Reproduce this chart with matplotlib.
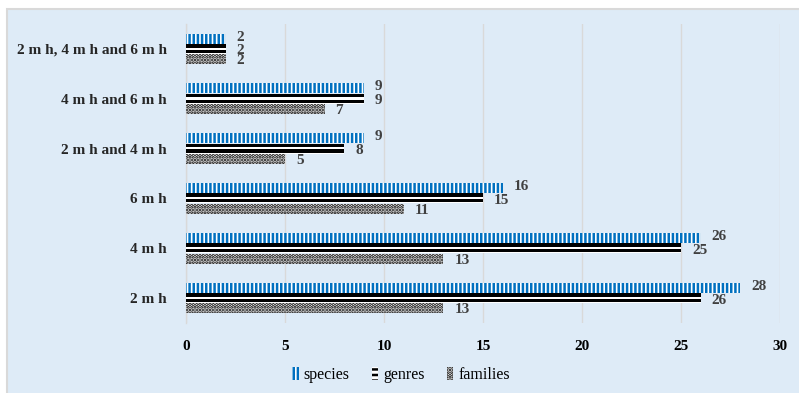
import matplotlib
matplotlib.use("Agg")
import matplotlib.pyplot as plt
from matplotlib.patches import Rectangle, Patch
import numpy as np

categories = ["2 m h", "4 m h", "6 m h", "2 m h and 4 m h", "4 m h and 6 m h",
              "2 m h, 4 m h and 6 m h"]
species = [28, 26, 16, 9, 9, 2]
genres = [26, 25, 15, 8, 9, 2]
families = [13, 13, 11, 5, 7, 2]
x_ticks = [0, 5, 10, 15, 20, 25, 30]

plt.rcParams["font.family"] = ["Liberation Serif", "DejaVu Serif"]
plt.rcParams["hatch.linewidth"] = 1.8

bg = "#DEEBF7"
grid_c = "#D9D9D9"
blue = "#0070C0"
label_c = "#404040"

fig = plt.figure(figsize=(7.99, 3.93), dpi=100)
fig.patch.set_facecolor("white")
fig.patches.append(Rectangle((7 / 799, -0.1), 1.0, (393 - 9) / 393 + 0.1,
                             transform=fig.transFigure, facecolor=bg,
                             edgecolor=grid_c, linewidth=1.5, zorder=-10))

ax = fig.add_axes([186 / 799, 1 - 323 / 393, (780 - 186) / 799, (323 - 24) / 393])
ax.set_facecolor("none")
ax.set_zorder(1)

y = np.arange(len(categories))
off = 0.207
h = 0.2

# species: blue vertical stripes
ax.barh(y + off, species, height=h, color="white", edgecolor=blue,
        hatch="||||", linewidth=0, zorder=3)
# genres: black/white horizontal bands
ax.barh(y, genres, height=h, color="black", linewidth=0, zorder=3)
ax.barh(y + 0.005, genres, height=0.045, color="white", linewidth=0, zorder=4)
ax.barh(y - h / 2 + 0.01, genres, height=0.02, color="white", linewidth=0, zorder=4)
# families: dotted fill
ax.barh(y - off, families, height=h, color="white", edgecolor="black",
        hatch=".....", linewidth=0, zorder=3)

lab_kw = dict(fontsize=11, fontweight="bold", color=label_c, va="center", ha="left")
for yi, s, g, f in zip(y, species, genres, families):
    ax.text(s + 0.55, yi + off + 0.03, str(s), **lab_kw)
    ax.text(g + 0.55, yi - 0.04, str(g), **lab_kw)
    ax.text(f + 0.55, yi - off - 0.03, str(f), **lab_kw)

ax.set_xlim(0, 30)
ax.set_ylim(-0.5, len(categories) - 0.5)
ax.set_xticks(x_ticks)
ax.set_xticklabels([str(t) for t in x_ticks], fontsize=11, fontweight="bold")
ax.set_yticks(y)
ax.set_yticklabels(categories, fontsize=11, fontweight="bold", color="#262626")
ax.tick_params(length=0, pad=14)
ax.tick_params(axis="x", pad=12)
ax.xaxis.grid(True, color=grid_c, linewidth=1, zorder=0)
ax.set_axisbelow(True)
for side in ["top", "right", "bottom"]:
    ax.spines[side].set_visible(False)
ax.spines["left"].set_color(grid_c)
ax.spines["left"].set_linewidth(1)

handles = [
    Patch(facecolor="white", edgecolor=blue, hatch="||||", linewidth=0, label="species"),
    Patch(facecolor="white", edgecolor="black", hatch="---", linewidth=0, label="genres"),
    Patch(facecolor="white", edgecolor="black", hatch=".....", linewidth=0, label="families"),
]
fig.legend(handles=handles, loc="center", bbox_to_anchor=(401 / 799, 1 - 375 / 393),
           ncol=3, frameon=False, fontsize=11.5, handlelength=0.4, handleheight=0.8,
           handletextpad=0.3, columnspacing=1.4)

fig.savefig("out.png", dpi=100)
